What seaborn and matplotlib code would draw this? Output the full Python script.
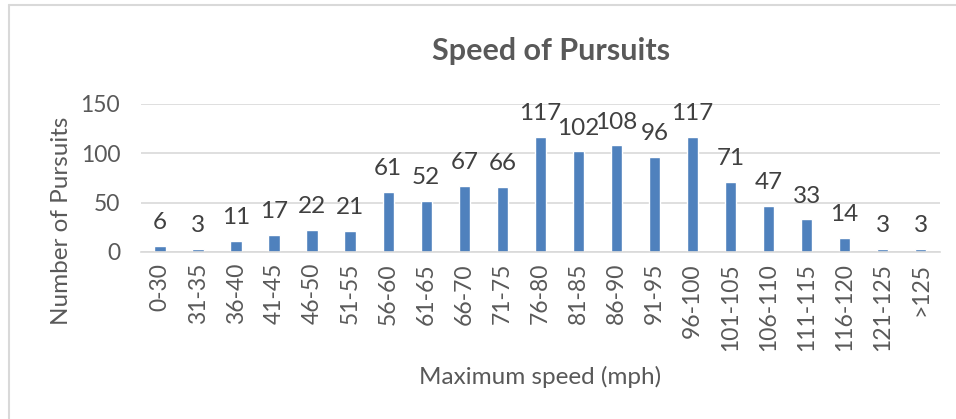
import matplotlib
matplotlib.use("Agg")
import matplotlib.pyplot as plt
from matplotlib.lines import Line2D
import seaborn as sns
import pandas as pd

categories = ["0-30", "31-35", "36-40", "41-45", "46-50", "51-55", "56-60", "61-65",
              "66-70", "71-75", "76-80", "81-85", "86-90", "91-95", "96-100", "101-105",
              "106-110", "111-115", "116-120", "121-125", ">125"]
values = [6, 3, 11, 17, 22, 21, 61, 52, 67, 66, 117, 102, 108, 96, 117, 71, 47, 33, 14, 3, 3]
yticks = [0, 50, 100, 150]

sns.set_theme(style="white")
plt.rcParams['font.family'] = ['Lato', 'DejaVu Sans']

df = pd.DataFrame({"cat": categories, "val": values})

fig = plt.figure(figsize=(9.56, 4.19), dpi=100)
ax = fig.add_axes([0.1475, 0.3986, 0.8355, 0.3532])
sns.barplot(data=df, x="cat", y="val", color="#4F81BD", saturation=1, width=0.3, ax=ax)

ax.set_ylim(0, 150)
ax.set_yticks(yticks)
ax.yaxis.grid(True, color="#D9D9D9", linewidth=1.2)
ax.set_axisbelow(True)
for s in ["top", "right", "left"]:
    ax.spines[s].set_visible(False)
ax.spines["bottom"].set_color("#D9D9D9")
ax.spines["bottom"].set_linewidth(1.2)
ax.tick_params(axis="both", length=0, colors="#595959", labelsize=16.5)
ax.tick_params(axis="y", pad=15)
ax.tick_params(axis="x", pad=8)
plt.setp(ax.get_xticklabels(), rotation=90)
ax.set_xlim(-0.5, len(categories) - 0.5)

for i, v in enumerate(values):
    ax.text(i, v + 13, str(v), ha="center", va="bottom", fontsize=17.5, color="#404040",
            clip_on=False)

ax.set_xlabel("Maximum speed (mph)", fontsize=17.5, color="#595959")
ax.xaxis.set_label_coords(0.5, -0.77)
ax.set_ylabel("Number of Pursuits", fontsize=17.5, color="#595959")
ax.yaxis.set_label_coords(-0.086, 0.213)

fig.text(0.576, 0.878, "Speed of Pursuits", ha="center", va="center",
         fontsize=22, fontweight="bold", color="#595959")

fig.add_artist(Line2D([0.009, 0.009], [0.0, 0.988], transform=fig.transFigure, color="#D9D9D9", lw=1.5))
fig.add_artist(Line2D([0.009, 1.0], [0.988, 0.988], transform=fig.transFigure, color="#D9D9D9", lw=1.5))

fig.savefig("out.png", dpi=100, facecolor="white")
